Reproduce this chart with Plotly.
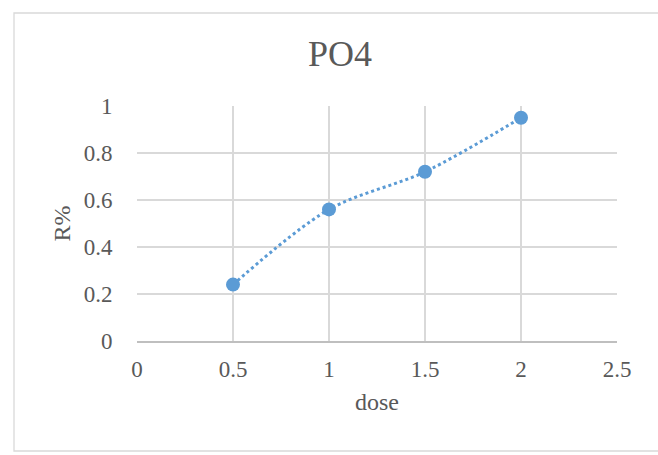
import plotly.graph_objects as go

# PO4 removal ratio versus dose
dose = [0.5, 1.0, 1.5, 2.0]
r_pct = [0.24, 0.56, 0.72, 0.95]

x_ticks = [0, 0.5, 1, 1.5, 2, 2.5]
x_tick_text = ["0", "0.5", "1", "1.5", "2", "2.5"]
y_ticks = [0, 0.2, 0.4, 0.6, 0.8, 1]
y_tick_text = ["0", "0.2", "0.4", "0.6", "0.8", "1"]

BLUE = "#5B9BD5"
GRID = "#D9D9D9"
TEXT = "#595959"
FONT = "Liberation Serif, Times New Roman, serif"

W, H = 658, 455
L, R, T, B = 137, 41, 106, 114
pw, ph = W - L - R, H - T - B

fig = go.Figure()
fig.add_trace(go.Scatter(
    x=dose, y=r_pct,
    mode="lines+markers",
    line=dict(color=BLUE, width=3, dash="dot", shape="spline", smoothing=0.9),
    marker=dict(color=BLUE, size=14),
    showlegend=False,
))

# outer chart frame (right edge runs off the canvas)
def px_x(p):
    return (p - L) / pw

def px_y(p):
    return (H - B - p) / ph

fig.add_shape(type="rect", xref="paper", yref="paper",
              x0=px_x(14), x1=px_x(662), y0=px_y(451), y1=px_y(13),
              line=dict(color=GRID, width=1.3), fillcolor="rgba(0,0,0,0)", layer="below")

fig.update_layout(
    width=W, height=H,
    margin=dict(l=L, r=R, t=T, b=B, autoexpand=False),
    paper_bgcolor="white", plot_bgcolor="white",
    font=dict(family=FONT, color=TEXT, size=23),
    title=dict(text="PO4", font=dict(family=FONT, size=36, color=TEXT),
               x=340 / W, xanchor="center",
               y=1 - 53 / H, yanchor="middle", xref="container", yref="container"),
    xaxis=dict(range=[0, 2.5], tickvals=x_ticks, ticktext=x_tick_text,
               showgrid=True, gridcolor=GRID, gridwidth=1.5,
               zeroline=False, showline=True, linecolor="#BFBFBF", linewidth=1.5,
               mirror=False, ticks="outside", ticklen=7, tickcolor="rgba(0,0,0,0)",
               title=dict(text="dose", standoff=12, font=dict(size=24, color=TEXT)),
               fixedrange=True),
    yaxis=dict(range=[0, 1], tickvals=y_ticks, ticktext=y_tick_text,
               showgrid=True, gridcolor=GRID, gridwidth=1.5,
               zeroline=False, showline=False,
               ticks="outside", ticklen=19, tickcolor="rgba(0,0,0,0)",
               title=dict(text="R%", standoff=6, font=dict(size=24, color=TEXT)),
               fixedrange=True),
)

fig.write_html("out.html")
